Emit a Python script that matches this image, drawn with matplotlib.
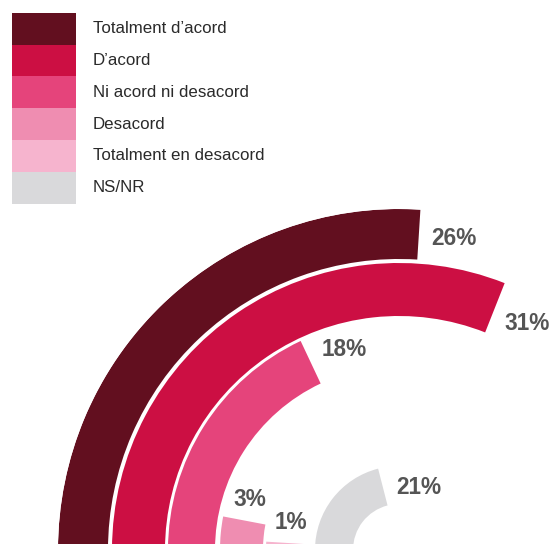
import numpy as np
import matplotlib
matplotlib.use("Agg")
import matplotlib.pyplot as plt
from matplotlib.patches import Rectangle

categories = ["Totalment d’acord", "D’acord", "Ni acord ni desacord",
              "Desacord", "Totalment en desacord", "NS/NR"]
values = [26, 31, 18, 3, 1, 21]
colors = ["#620f1f", "#cc0f43", "#e5447b", "#ef8db1", "#f6b4ce", "#d9d9db"]

W, H = 556, 544
# ring geometry in pixels; the chart centre sits just below the crop
ring_outer = np.array([341, 287, 231, 179, 133, 84])
ring_inner = np.array([291, 234, 184, 136, 89, 46])
cx, cy = 399, 550
r_max = ring_outer[0]

fig = plt.figure(figsize=(W / 100, H / 100), dpi=100)

# legend drawn in a pixel-coordinate overlay
leg = fig.add_axes([0, 0, 1, 1])
leg.set_xlim(0, W)
leg.set_ylim(H, 0)
leg.set_axis_off()
top, step = 12.7, 31.8
for i, (name, c) in enumerate(zip(categories, colors)):
    y0 = top + i * step
    leg.add_patch(Rectangle((12, y0), 64, step, facecolor=c, edgecolor="none"))
    leg.text(93, y0 + 20.6, name, ha="left", va="baseline", fontsize=12.2,
             color="#2a2a2a", family="Liberation Sans")

# radial bars: 100% = full turn, starting at 9 o'clock, clockwise
ax = fig.add_axes([(cx - r_max) / W, (H - cy - r_max) / H,
                   2 * r_max / W, 2 * r_max / H], projection="polar")
ax.set_theta_zero_location("W")
ax.set_theta_direction(-1)
ax.set_ylim(0, r_max)
ax.set_axis_off()

theta = np.array(values) / 100 * 2 * np.pi
ax.bar(np.zeros(len(values)), ring_outer - ring_inner, width=theta,
       bottom=ring_inner, align="edge", color=colors, linewidth=0)

# value labels just past the bar end, pushed out by the text's half-extent
for t, v, ro, ri in zip(theta, values, ring_outer, ring_inner):
    rm = (ro + ri) / 2
    label = f"{v}%"
    half_w, half_h = 7.6 * len(label), 7.5
    extent = half_w * abs(np.sin(t)) + half_h * abs(np.cos(t))
    ax.text(t + (12 + extent) / rm, rm, label, ha="center", va="center",
            fontsize=16.3, fontweight="bold", color="#555555",
            family="Liberation Sans")

fig.savefig("out.png", dpi=100)
